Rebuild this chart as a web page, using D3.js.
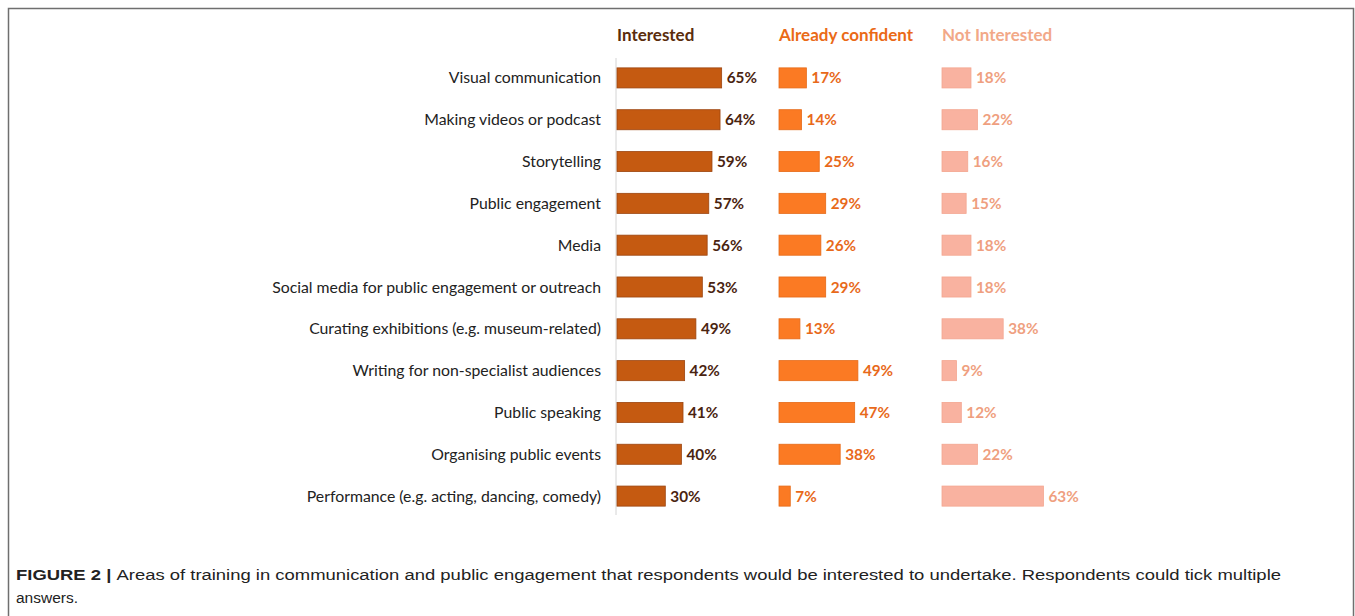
<!DOCTYPE html>
<html>
<head>
<meta charset="utf-8">
<style>
    body { margin: 0; background: #fff; }
    .cat { font-family: Lato, "Open Sans", sans-serif; font-size: 15.8px; fill: #222; }
    .head { font-family: Lato, sans-serif; font-size: 17px; font-weight: bold; }
    .val { font-family: Lato, sans-serif; font-size: 15.3px; font-weight: bold; }
    .cap { font-family: "Liberation Sans", Arial, sans-serif; font-size: 15.5px; fill: #222; }
</style>
</head>
<body>
<svg id="chart" width="1355" height="616"></svg>
<script src="https://cdn.jsdelivr.net/npm/d3@7"></script>
<script>
    let categories = [
        "Visual communication",
        "Making videos or podcast",
        "Storytelling",
        "Public engagement",
        "Media",
        "Social media for public engagement or outreach",
        "Curating exhibitions (e.g. museum-related)",
        "Writing for non-specialist audiences",
        "Public speaking",
        "Organising public events",
        "Performance (e.g. acting, dancing, comedy)"
    ]
    let interested = [65, 64, 59, 57, 56, 53, 49, 42, 41, 40, 30]
    let alreadyConfident = [17, 14, 25, 29, 26, 29, 13, 49, 47, 38, 7]
    let notInterested = [18, 22, 16, 15, 18, 18, 38, 9, 12, 22, 63]
    let seriesNames = ["Interested", "Already confident", "Not Interested"]

    let svg = d3.select("#chart")

    // frame round the figure
    svg.append("rect")
        .attr("x", 8.5).attr("y", 8.5)
        .attr("width", 1345).attr("height", 640)
        .attr("fill", "none")
        .attr("stroke", "#6f6f6f")
        .attr("stroke-width", 1.5)

    let y = d3.scaleBand()
        .domain(categories)
        .range([57, 517])
        .paddingInner(0.52)
        .paddingOuter(0.26)

    let panels = [
        { name: seriesNames[0], values: interested, x0: 617, fill: "#c55a11", stroke: "#9c4510", head: "#5a2c0c", text: "#4a2410" },
        { name: seriesNames[1], values: alreadyConfident, x0: 779, fill: "#fb7a23", stroke: "#e56a18", head: "#ea6a17", text: "#e8691a" },
        { name: seriesNames[2], values: notInterested, x0: 942, fill: "#f9b2a0", stroke: "#f3a690", head: "#f2a888", text: "#ef9f80" }
    ]

    // category labels
    svg.selectAll("text.cat").data(categories)
        .enter().append("text")
        .attr("class", "cat")
        .attr("x", 601)
        .attr("y", d => y(d) + y.bandwidth() / 2)
        .attr("dy", "0.35em")
        .attr("text-anchor", "end")
        .text(d => d)

    // thin axis line left of first panel
    svg.append("line")
        .attr("x1", 616).attr("x2", 616)
        .attr("y1", 58).attr("y2", 515)
        .attr("stroke", "#d4d4d4")

    for (let p of panels) {
        let x = d3.scaleLinear().domain([0, 100]).range([p.x0, p.x0 + 161])
        let g = svg.append("g")
        g.append("text")
            .attr("class", "head")
            .attr("x", p.x0)
            .attr("y", 41)
            .attr("fill", p.head)
            .text(p.name)
        g.selectAll("rect").data(categories)
            .enter().append("rect")
            .attr("x", x(0))
            .attr("y", d => y(d))
            .attr("width", (d, i) => x(p.values[i]) - x(0))
            .attr("height", y.bandwidth())
            .attr("fill", p.fill)
            .attr("stroke", p.stroke)
            .attr("stroke-width", 0.8)
        g.selectAll("text.val").data(categories)
            .enter().append("text")
            .attr("class", "val")
            .attr("x", (d, i) => x(p.values[i]) + 5)
            .attr("y", d => y(d) + y.bandwidth() / 2)
            .attr("dy", "0.36em")
            .attr("fill", p.text)
            .text((d, i) => p.values[i] + "%")
    }

    // caption
    let cap = svg.append("text").attr("class", "cap").attr("x", 16).attr("y", 580)
    cap.append("tspan").attr("font-weight", "bold").text("FIGURE 2 | ")
    cap.append("tspan")
        .text("Areas of training in communication and public engagement that respondents would be interested to undertake. Respondents could tick multiple")
    svg.append("text").attr("class", "cap").attr("x", 16).attr("y", 603).text("answers.")
    cap.attr("textLength", 1265).attr("lengthAdjust", "spacingAndGlyphs")
</script>
</body>
</html>
